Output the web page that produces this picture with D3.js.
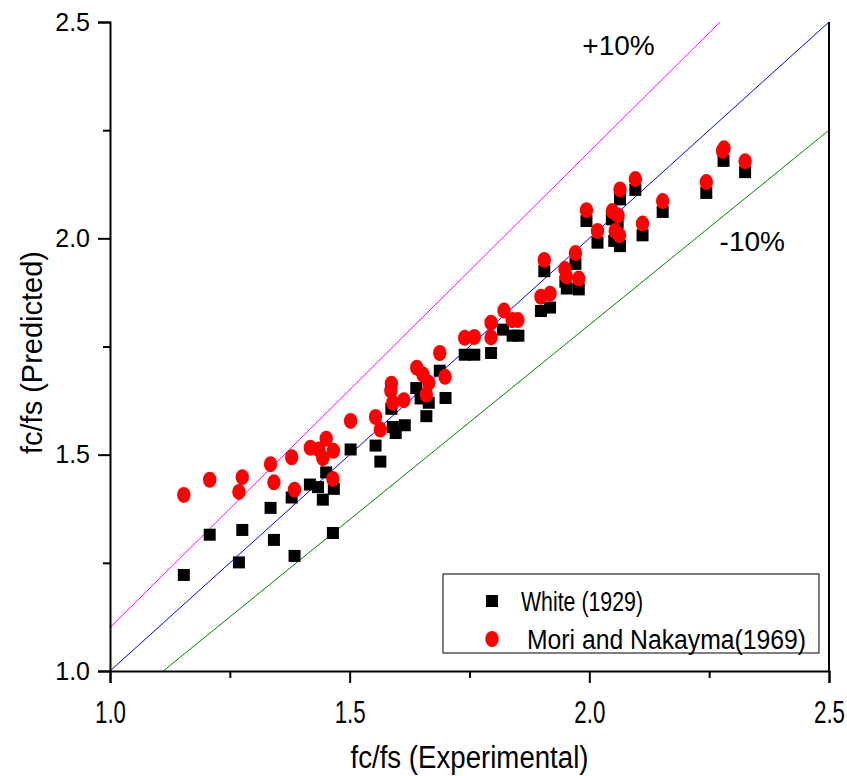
<!DOCTYPE html>
<html>
<head>
<meta charset="utf-8">
<script src="https://cdn.jsdelivr.net/npm/d3@7"></script>
<style>
    body { margin: 0; background: #fff; }
    #chart { width: 847px; height: 776px; }
    text { font-family: Arial, "Liberation Sans", sans-serif; fill: #000; }
</style>
</head>
<body>
<div id="chart"></div>
<script>

// White (1929) - experimental vs predicted
const whiteX = [1.154, 1.208, 1.276, 1.269, 1.335, 1.342, 1.379, 1.385, 1.417, 1.434,
    1.451, 1.444, 1.467, 1.465, 1.502, 1.554, 1.564, 1.587, 1.590, 1.596,
    1.615, 1.639, 1.648, 1.665, 1.660, 1.688, 1.700, 1.740, 1.760, 1.795,
    1.820, 1.840, 1.852, 1.899, 1.918, 1.906, 1.950, 1.953, 1.971, 1.978,
    1.994, 2.017, 2.047, 2.059, 2.052, 2.064, 2.064, 2.096, 2.111, 2.153,
    2.244, 2.280, 2.325];
const whiteY = [1.222, 1.315, 1.326, 1.251, 1.377, 1.303, 1.401, 1.266, 1.431, 1.425,
    1.459, 1.396, 1.421, 1.319, 1.512, 1.521, 1.484, 1.606, 1.564, 1.550,
    1.568, 1.654, 1.630, 1.620, 1.589, 1.694, 1.631, 1.731, 1.731, 1.735,
    1.789, 1.775, 1.775, 1.832, 1.840, 1.924, 1.900, 1.884, 1.941, 1.882,
    2.040, 1.990, 2.044, 2.036, 1.994, 1.982, 2.090, 2.112, 2.007, 2.061,
    2.105, 2.179, 2.153];

// Mori and Nakayma (1969)
const moriX = [1.154, 1.208, 1.276, 1.269, 1.335, 1.342, 1.379, 1.385, 1.418, 1.436,
    1.451, 1.444, 1.466, 1.465, 1.502, 1.554, 1.564, 1.587, 1.586, 1.590,
    1.613, 1.640, 1.653, 1.665, 1.660, 1.688, 1.699, 1.740, 1.760, 1.795,
    1.795, 1.822, 1.839, 1.851, 1.899, 1.918, 1.906, 1.949, 1.952, 1.971,
    1.978, 1.994, 2.017, 2.048, 2.060, 2.054, 2.063, 2.064, 2.096, 2.111,
    2.153, 2.244, 2.278, 2.281, 2.325];
const moriY = [1.407, 1.442, 1.448, 1.414, 1.478, 1.436, 1.494, 1.419, 1.516, 1.512,
    1.537, 1.492, 1.509, 1.444, 1.578, 1.587, 1.558, 1.664, 1.648, 1.620,
    1.626, 1.701, 1.685, 1.666, 1.639, 1.735, 1.680, 1.770, 1.772, 1.805,
    1.771, 1.833, 1.811, 1.811, 1.865, 1.872, 1.950, 1.929, 1.912, 1.966,
    1.907, 2.065, 2.017, 2.063, 2.053, 2.017, 2.007, 2.113, 2.137, 2.034,
    2.086, 2.130, 2.202, 2.208, 2.178];

const majorTicks = [1.0, 1.5, 2.0, 2.5];
const minorTicks = [1.25, 1.75, 2.25];
const bandFactors = [1.1, 1.0, 0.9];
const bandColors = ["#ff00ff", "#0000ff", "#008000"];
const bandLabels = ["+10%", "", "-10%"];
const seriesNames = ["White (1929)", "Mori and Nakayma(1969)"];

const width = 847;
const height = 776;
const margin = { top: 22, right: 18, bottom: 105, left: 110 };

const svg = d3.select("#chart")
    .append("svg")
    .attr("width", width)
    .attr("height", height);

const x = d3.scaleLinear()
    .domain([1, 2.5])
    .range([margin.left, width - margin.right]);

const y = d3.scaleLinear()
    .domain([1, 2.5])
    .range([height - margin.bottom, margin.top]);

//REFERENCE LINES (y = x, +10%, -10%)
svg.append("clipPath").attr("id", "plotclip")
    .append("rect")
    .attr("x", x(1)).attr("y", y(2.5))
    .attr("width", x(2.5) - x(1)).attr("height", y(1) - y(2.5));

svg.append("g")
    .attr("clip-path", "url(#plotclip)")
    .selectAll("line.band")
    .data(bandFactors)
    .enter()
    .append("line")
    .attr("class", "band")
    .attr("x1", d => x(Math.max(1, 1 / d)))
    .attr("y1", d => y(Math.max(1, 1 / d) * d))
    .attr("x2", d => x(Math.min(2.5, 2.5 / d)))
    .attr("y2", d => y(Math.min(2.5, 2.5 / d) * d))
    .attr("stroke", (d, i) => bandColors[i])
    .attr("stroke-width", 1);

svg.append("text")
    .attr("x", x(2.061))
    .attr("y", y(2.44))
    .attr("text-anchor", "middle")
    .attr("dominant-baseline", "middle")
    .style("font-size", "28px")
    .text(bandLabels[0]);

svg.append("text")
    .attr("x", x(2.34))
    .attr("y", y(1.988))
    .attr("text-anchor", "middle")
    .attr("dominant-baseline", "middle")
    .style("font-size", "28px")
    .text(bandLabels[2]);

//AXES
const xAxis = svg.append("g")
    .attr("transform", `translate(0,${y(1)})`)
    .call(d3.axisBottom(x).tickValues(majorTicks).tickSize(12).tickPadding(17)
        .tickFormat(d3.format(".1f")));

svg.append("g")
    .attr("transform", `translate(0,${y(1)})`)
    .call(d3.axisBottom(x).tickValues(minorTicks).tickSize(7).tickFormat(""))
    .select(".domain").remove();

const yAxis = svg.append("g")
    .attr("transform", `translate(${x(1)},0)`)
    .call(d3.axisLeft(y).tickValues(majorTicks).tickSize(12).tickPadding(8)
        .tickFormat(d3.format(".1f")));

svg.append("g")
    .attr("transform", `translate(${x(1)},0)`)
    .call(d3.axisLeft(y).tickValues(minorTicks).tickSize(7).tickFormat(""))
    .select(".domain").remove();

svg.selectAll(".domain").attr("stroke-width", 2);
svg.selectAll(".tick line").attr("stroke-width", 2);

xAxis.selectAll("text")
    .style("font-size", "32px")
    .style("font-family", "Arial, 'Liberation Sans', sans-serif")
    .attr("textLength", 31)
    .attr("lengthAdjust", "spacingAndGlyphs");

yAxis.selectAll("text")
    .style("font-size", "25px")
    .style("font-family", "Arial, 'Liberation Sans', sans-serif");

// right frame line
svg.append("line")
    .attr("x1", x(2.5)).attr("x2", x(2.5))
    .attr("y1", y(1)).attr("y2", y(2.5))
    .attr("stroke", "#000")
    .attr("stroke-width", 2);

// axis titles
svg.append("text")
    .attr("x", (x(1) + x(2.5)) / 2)
    .attr("y", 760)
    .attr("text-anchor", "middle")
    .attr("dominant-baseline", "middle")
    .attr("textLength", 238)
    .attr("lengthAdjust", "spacingAndGlyphs")
    .style("font-size", "31px")
    .text("fc/fs (Experimental)");

svg.append("text")
    .attr("transform", `translate(34,${(y(1) + y(2.5)) / 2 + 6}) rotate(-90)`)
    .attr("text-anchor", "middle")
    .attr("dominant-baseline", "middle")
    .style("font-size", "29px")
    .text("fc/fs (Predicted)");

//POINTS
const squareSize = 12;

svg.selectAll("rect.white")
    .data(whiteX)
    .enter()
    .append("rect")
    .attr("class", "white")
    .attr("x", d => x(d) - squareSize / 2)
    .attr("y", (d, i) => y(whiteY[i]) - squareSize / 2)
    .attr("width", squareSize)
    .attr("height", squareSize)
    .attr("fill", "#000");

svg.selectAll("ellipse.mori")
    .data(moriX)
    .enter()
    .append("ellipse")
    .attr("class", "mori")
    .attr("cx", d => x(d))
    .attr("cy", (d, i) => y(moriY[i]))
    .attr("rx", 6.7)
    .attr("ry", 8)
    .attr("fill", "#ff0000");

//LEGEND
const legend = svg.append("g");

legend.append("rect")
    .attr("x", 443)
    .attr("y", 574)
    .attr("width", 376)
    .attr("height", 79)
    .attr("fill", "#fff")
    .attr("stroke", "#000")
    .attr("stroke-width", 1);

legend.append("rect")
    .attr("x", 492 - squareSize / 2)
    .attr("y", 601 - squareSize / 2)
    .attr("width", squareSize)
    .attr("height", squareSize)
    .attr("fill", "#000");

legend.append("ellipse")
    .attr("cx", 492)
    .attr("cy", 639)
    .attr("rx", 6.7)
    .attr("ry", 8)
    .attr("fill", "#ff0000");

legend.append("text")
    .attr("x", 521)
    .attr("y", 611)
    .attr("textLength", 122)
    .attr("lengthAdjust", "spacingAndGlyphs")
    .style("font-size", "27px")
    .text(seriesNames[0]);

legend.append("text")
    .attr("x", 527)
    .attr("y", 649)
    .attr("textLength", 279)
    .attr("lengthAdjust", "spacingAndGlyphs")
    .style("font-size", "27px")
    .text(seriesNames[1]);

</script>
</body>
</html>
